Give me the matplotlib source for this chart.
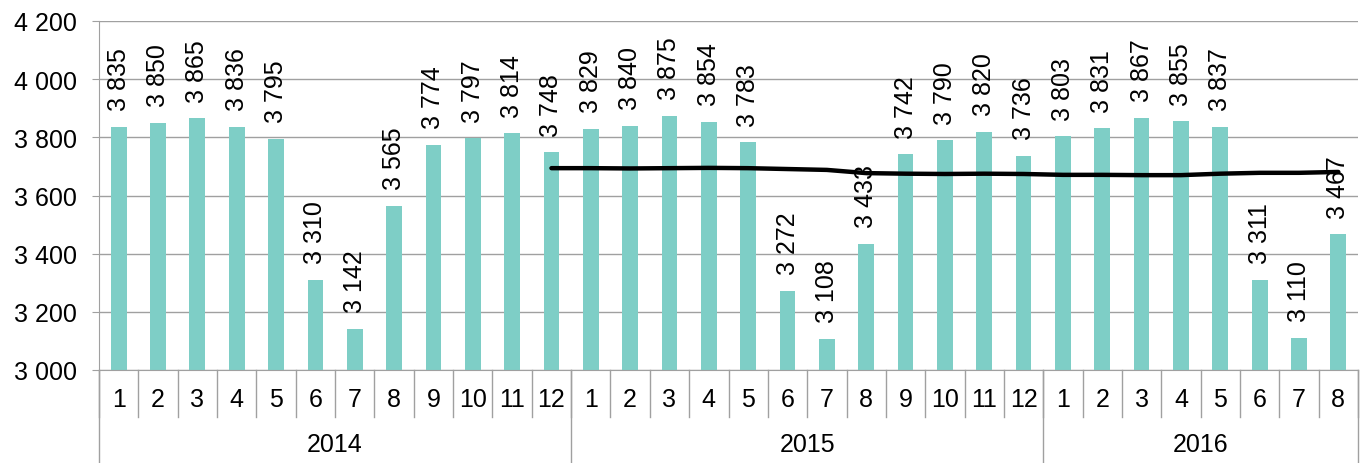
import matplotlib
matplotlib.use("Agg")
from matplotlib import pyplot as plt
import matplotlib.transforms as mtransforms

plt.rcParams['font.family'] = ['Liberation Sans', 'DejaVu Sans']

years = ["2014", "2015", "2016"]
months_per_year = [12, 12, 8]
month_labels = [str(m) for m in range(1, 13)] * 2 + [str(m) for m in range(1, 9)]

values = [3835, 3850, 3865, 3836, 3795, 3310, 3142, 3565, 3774, 3797, 3814, 3748,
          3829, 3840, 3875, 3854, 3783, 3272, 3108, 3433, 3742, 3790, 3820, 3736,
          3803, 3831, 3867, 3855, 3837, 3311, 3110, 3467]

# trend line, starts at 12/2014
trend_start = 11
trend = [3694, 3694, 3693, 3694, 3695, 3694, 3691, 3688, 3677, 3675, 3674, 3675,
         3674, 3671, 3671, 3670, 3670, 3675, 3678, 3678, 3681]

W, H = 1370, 464
fig = plt.figure(figsize=(W / 100, H / 100), dpi=100)
x0, x1, ytop, ybot = 99, 1358, 22, 371
ax = fig.add_axes([x0 / W, (H - ybot) / H, (x1 - x0) / W, (ybot - ytop) / H])

fs = 18
n = len(values)
xs = list(range(n))
ax.bar(xs, values, width=0.4, color="#7ECEC6", zorder=2)
ax.plot(xs[trend_start:], trend, color="black", lw=3.2, zorder=3,
        solid_capstyle="round")

for x, v in zip(xs, values):
    ax.annotate(f"{v // 1000} {v % 1000:03d}", (x, v), xytext=(0, 12),
                textcoords="offset points", rotation=90, ha="center", va="bottom",
                fontsize=fs, zorder=4)

ax.set_xlim(-0.5, n - 0.5)
ax.set_ylim(3000, 4200)
ax.set_yticks(range(3000, 4201, 200))
ax.set_yticklabels([f"{t // 1000} {t % 1000:03d}" for t in range(3000, 4201, 200)])
ax.tick_params(axis="y", labelsize=fs, length=5, color="#A0A0A0", pad=11)
ax.grid(axis="y", color="#A0A0A0", lw=1, zorder=0)
ax.set_xticks([])
for s in ["top", "right"]:
    ax.spines[s].set_visible(False)
ax.spines["bottom"].set_color("#A0A0A0")
ax.spines["left"].set_color("#A0A0A0")

# two-level category axis
trans = mtransforms.blended_transform_factory(ax.transData, ax.transAxes)
ph = ybot - ytop
m_bot = -(418 - ybot) / ph
y_bot = -(H - ybot) / ph
for i in range(n + 1):
    ax.plot([i - 0.5, i - 0.5], [0, m_bot], transform=trans, color="#A0A0A0",
            lw=1, clip_on=False)
for i, lab in enumerate(month_labels):
    ax.text(i, -(400 - ybot) / ph, lab, transform=trans, ha="center", va="center",
            fontsize=fs)
start = 0
for yr, cnt in zip(years, months_per_year):
    ax.plot([start - 0.5, start - 0.5], [0, y_bot], transform=trans,
            color="#A0A0A0", lw=1, clip_on=False)
    ax.text(start + cnt / 2 - 0.5, -(445 - ybot) / ph, yr, transform=trans,
            ha="center", va="center", fontsize=fs)
    start += cnt
ax.plot([start - 0.5, start - 0.5], [0, y_bot], transform=trans,
        color="#A0A0A0", lw=1, clip_on=False)

fig.savefig("out.png", dpi=100)
